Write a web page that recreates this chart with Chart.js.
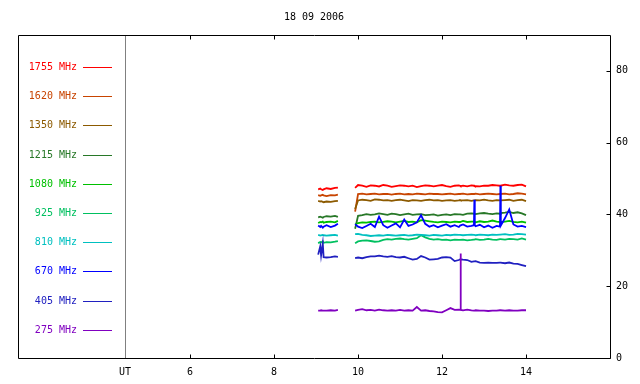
<!DOCTYPE html>
<html>
<head>
<meta charset="utf-8">
<title>18 09 2006</title>
<script src="https://cdn.jsdelivr.net/npm/chart.js@4"></script>
<style>
  html, body { margin: 0; padding: 0; background: #fff; }
  canvas { display: block; }
</style>
</head>
<body>
<canvas id="chart" width="640" height="384"></canvas>
<script>
const title = '18 09 2006';
const xMin = 4.45, xMax = 16;
const xTicks = [6, 8, 10, 12, 14];
const yTicks = [0, 20, 40, 60, 80];

// UT hours (9.7 is the data gap)
const hours = [9.05, 9.1, 9.12, 9.16, 9.18, 9.25, 9.35, 9.45, 9.52,
  9.7,
  9.93, 10.0, 10.1, 10.2, 10.3, 10.4, 10.5, 10.6, 10.7, 10.8,
  10.9, 11.0, 11.1, 11.2, 11.3, 11.4, 11.5, 11.6, 11.7, 11.8,
  11.9, 12.0, 12.1, 12.2, 12.3, 12.4, 12.43, 12.44, 12.45, 12.5,
  12.6, 12.7, 12.76, 12.77, 12.78, 12.8, 12.9, 13.0, 13.1, 13.2,
  13.3, 13.38, 13.39, 13.4, 13.5, 13.6, 13.7, 13.8, 13.9, 14.0];

const f1755 = [47.0, 47.2, 47.0, 46.8, 47.0, 47.3, 47.1, 47.4, 47.5, null,
  47.4, 48.2, 48.0, 47.7, 48.1, 48.0, 47.8, 48.2, 48.0, 47.7,
  47.9, 48.1, 48.0, 47.8, 48.0, 47.6, 47.9, 48.1, 48.0, 47.8,
  48.0, 48.2, 47.9, 47.7, 48.0, 48.1, 48.0, 48.0, 47.9, 48.0,
  47.8, 48.1, 48.0, 48.0, 47.9, 47.9, 47.8, 48.0, 48.0, 48.2,
  48.1, 48.0, 48.0, 48.0, 48.3, 48.1, 48.0, 48.2, 48.3, 47.8];
const f1620 = [45.4, 45.2, 45.3, 45.5, 45.3, 45.1, 45.4, 45.3, 45.5, null,
  40.8, 45.7, 45.8, 45.6, 45.7, 45.8, 45.6, 45.7, 45.7, 45.5,
  45.7, 45.8, 45.6, 45.7, 45.6, 45.8, 45.7, 45.6, 45.8, 45.7,
  45.7, 45.6, 45.7, 45.8, 45.6, 45.7, 45.7, 45.7, 45.7, 45.8,
  45.6, 45.7, 45.7, 45.7, 45.7, 45.8, 45.6, 45.7, 45.8, 45.7,
  45.6, 45.7, 45.7, 45.7, 45.8, 45.6, 45.7, 45.9, 45.8, 45.6];
const f1350 = [43.8, 43.6, 43.7, 43.5, 43.4, 43.6, 43.5, 43.7, 43.8, null,
  41.5, 43.9, 44.1, 44.0, 43.8, 44.2, 44.1, 43.9, 44.0, 43.8,
  44.0, 44.1, 43.9, 43.7, 44.0, 43.9, 43.8, 44.0, 44.1, 43.9,
  44.0, 43.8, 43.9, 44.0, 43.8, 43.9, 44.0, 44.0, 43.9, 43.9,
  44.0, 43.8, 43.9, 43.9, 43.9, 44.0, 43.9, 44.1, 43.9, 43.8,
  44.0, 43.9, 43.9, 43.9, 44.0, 44.1, 43.8, 44.0, 44.1, 43.7];
const f1215 = [39.2, 39.4, 39.3, 39.1, 39.3, 39.5, 39.4, 39.6, 39.3, null,
  36.0, 39.6, 39.8, 40.1, 39.9, 40.0, 40.3, 40.1, 39.9, 40.2,
  40.1, 39.8, 40.0, 40.2, 39.9, 40.0, 40.1, 39.8, 39.9, 40.0,
  39.7, 39.9, 40.0, 39.8, 40.1, 40.0, 40.0, 40.0, 40.0, 39.9,
  40.2, 40.3, 40.2, 40.2, 40.2, 40.1, 40.3, 40.4, 40.2, 40.1,
  40.3, 40.2, 40.2, 40.4, 40.5, 40.7, 40.4, 40.6, 40.3, 39.8];
const f1080 = [37.6, 37.9, 37.8, 38.0, 37.7, 37.9, 38.0, 37.8, 38.2, null,
  37.2, 37.6, 37.8, 37.7, 37.9, 38.0, 37.8, 37.9, 38.1, 38.0,
  37.8, 38.0, 38.2, 37.9, 38.0, 37.8, 38.4, 38.3, 38.1, 37.9,
  37.8, 38.0, 37.9, 37.8, 38.0, 37.9, 37.9, 37.9, 37.9, 38.2,
  37.9, 38.0, 38.0, 38.0, 38.0, 37.8, 38.1, 37.9, 38.0, 38.3,
  38.0, 37.9, 37.9, 37.9, 38.0, 38.2, 37.9, 37.8, 38.0, 37.7];
const f925 = [32.0, 32.3, 32.2, 32.5, 32.1, 32.3, 32.2, 32.4, 32.6, null,
  32.0, 32.5, 32.7, 32.8, 32.6, 32.4, 32.5, 32.9, 33.1, 33.0,
  33.2, 33.3, 33.1, 33.0, 33.2, 33.4, 34.2, 33.6, 33.2, 33.0,
  33.1, 32.9, 33.0, 32.8, 33.0, 32.9, 32.9, 32.9, 32.9, 33.0,
  32.8, 32.9, 33.0, 33.0, 33.0, 33.1, 32.9, 33.0, 33.2, 33.0,
  32.9, 33.1, 33.1, 33.1, 33.0, 33.2, 33.1, 33.0, 33.3, 33.0];
const f810 = [34.3, 34.1, 34.2, 34.3, 34.2, 34.1, 34.2, 34.3, 34.1, null,
  34.5, 34.6, 34.3, 34.2, 34.0, 34.1, 34.2, 34.1, 34.3, 34.2,
  34.1, 34.2, 34.3, 34.1, 34.2, 34.4, 34.3, 34.2, 34.1, 34.3,
  34.2, 34.1, 34.3, 34.2, 34.4, 34.3, 34.3, 34.3, 34.3, 34.2,
  34.3, 34.4, 34.3, 34.3, 34.3, 34.2, 34.4, 34.3, 34.2, 34.4,
  34.3, 34.4, 34.4, 34.4, 34.5, 34.3, 34.4, 34.6, 34.5, 34.4];
const f670 = [36.9, 36.5, 36.8, 36.3, 36.6, 37.0, 36.5, 36.9, 37.4, null,
  37.3, 36.6, 36.2, 36.8, 37.4, 36.5, 39.4, 37.0, 36.3, 36.9,
  37.5, 36.4, 38.6, 36.8, 37.2, 37.8, 39.8, 37.4, 36.6, 37.0,
  36.4, 36.9, 37.3, 36.6, 37.0, 36.5, 36.9, 36.9, 36.9, 37.2,
  36.6, 36.8, 37.0, 44.1, 37.0, 36.7, 37.1, 36.4, 36.9, 36.3,
  36.8, 36.6, 48.0, 36.9, 39.0, 41.4, 37.2, 36.6, 36.8, 36.5];
const f405 = [28.8, 31.1, 28.6, 31.9, 28.1, 28.0, 28.1, 28.3, 28.2, null,
  27.8, 28.0, 27.8, 28.1, 28.3, 28.3, 28.5, 28.3, 28.2, 28.4,
  28.1, 28.0, 28.2, 27.8, 27.4, 27.6, 28.4, 28.0, 27.4, 27.5,
  27.6, 28.0, 28.1, 28.0, 27.0, 27.3, 27.5, 27.5, 27.5, 27.4,
  27.3, 26.8, 26.9, 26.9, 26.9, 27.0, 26.6, 26.5, 26.6, 26.5,
  26.5, 26.6, 26.6, 26.6, 26.4, 26.6, 26.3, 26.2, 25.9, 25.6];
const f275 = [13.2, 13.2, 13.3, 13.2, 13.2, 13.2, 13.3, 13.2, 13.4, null,
  13.2, 13.4, 13.6, 13.3, 13.4, 13.2, 13.5, 13.3, 13.2, 13.3,
  13.2, 13.4, 13.2, 13.3, 13.2, 14.2, 13.2, 13.3, 13.1, 13.0,
  12.8, 12.7, 13.3, 13.9, 13.4, 13.5, 13.4, 29.1, 13.4, 13.3,
  13.5, 13.3, 13.2, 13.2, 13.2, 13.3, 13.2, 13.2, 13.1, 13.2,
  13.2, 13.3, 13.3, 13.3, 13.2, 13.3, 13.2, 13.2, 13.3, 13.3];

const names = ['1755 MHz', '1620 MHz', '1350 MHz', '1215 MHz', '1080 MHz',
  '925 MHz', '810 MHz', '670 MHz', '405 MHz', '275 MHz'];
const colors = ['#ff0000', '#c84400', '#8c5a00', '#287828', '#00c000',
  '#00c060', '#00c0c0', '#0000ff', '#2020c0', '#8000c0'];
const series = [f1755, f1620, f1350, f1215, f1080, f925, f810, f670, f405, f275];

const font = '10px "DejaVu Sans Mono", monospace';
const frameLeft = 18;

// frame, inward ticks, title and the legend column on the left
const framePlugin = {
  id: 'frame',
  afterDraw(chart) {
    const ctx = chart.ctx;
    const a = chart.chartArea;
    const xs = chart.scales.x, ys = chart.scales.y;
    const L = frameLeft + 0.5, R = Math.round(a.right) + 0.5;
    const T = Math.round(a.top) + 0.5, B = Math.round(a.bottom) + 0.5;
    ctx.save();
    ctx.font = font;
    ctx.fillStyle = '#000';
    ctx.textAlign = 'center';
    ctx.textBaseline = 'middle';
    ctx.fillText(title, (frameLeft + a.right) / 2, 17);

    ctx.lineWidth = 1;
    ctx.strokeStyle = '#808080';
    ctx.beginPath();
    ctx.moveTo(Math.round(a.left) + 0.5, T);
    ctx.lineTo(Math.round(a.left) + 0.5, B);
    ctx.stroke();

    ctx.strokeStyle = '#000';
    ctx.beginPath();
    ctx.rect(L, T, R - L, B - T);
    xTicks.forEach(v => {
      const px = Math.round(xs.getPixelForValue(v)) + 0.5;
      ctx.moveTo(px, T); ctx.lineTo(px, T + 4);
      ctx.moveTo(px, B); ctx.lineTo(px, B - 4);
    });
    yTicks.forEach(v => {
      const py = Math.round(ys.getPixelForValue(v)) + 0.5;
      ctx.moveTo(R, py); ctx.lineTo(R - 4, py);
    });
    ctx.stroke();

    ctx.textAlign = 'right';
    names.forEach((n, i) => {
      const y = Math.round(67 + i * 29.2);
      ctx.fillStyle = colors[i];
      ctx.fillText(n, 77, y);
      ctx.fillRect(83, y, 29, 1);
    });
    ctx.restore();
  }
};

const datasets = series.map((vals, i) => ({
  label: names[i],
  data: hours.map((h, j) => ({ x: h, y: vals[j] })),
  borderColor: colors[i],
  backgroundColor: colors[i],
  borderWidth: 1.8,
  pointRadius: 0,
  tension: 0,
  spanGaps: false,
  order: series.length - i
}));

new Chart(document.getElementById('chart'), {
  type: 'line',
  data: { datasets: datasets },
  plugins: [framePlugin],
  options: {
    responsive: false,
    animation: false,
    layout: { padding: { left: 125, top: 35, right: 0, bottom: 0 } },
    plugins: {
      legend: { display: false },
      tooltip: { enabled: false },
      title: { display: false }
    },
    scales: {
      x: {
        type: 'linear',
        min: xMin,
        max: xMax,
        afterBuildTicks: s => { s.ticks = [xMin].concat(xTicks).map(v => ({ value: v })); },
        afterFit: s => { s.height = 26; },
        grid: { display: false, drawTicks: false },
        border: { display: false },
        ticks: {
          autoSkip: false,
          maxRotation: 0,
          padding: 8,
          color: '#000',
          font: { family: '"DejaVu Sans Mono", monospace', size: 10 },
          callback: v => (v === xMin ? 'UT' : v)
        }
      },
      y: {
        position: 'right',
        min: 0,
        max: 90,
        afterBuildTicks: s => { s.ticks = yTicks.map(v => ({ value: v })); },
        afterFit: s => { s.width = 30; },
        grid: { display: false, drawTicks: false },
        border: { display: false },
        ticks: {
          padding: 6,
          color: '#000',
          font: { family: '"DejaVu Sans Mono", monospace', size: 10 }
        }
      }
    }
  }
});
</script>
</body>
</html>
